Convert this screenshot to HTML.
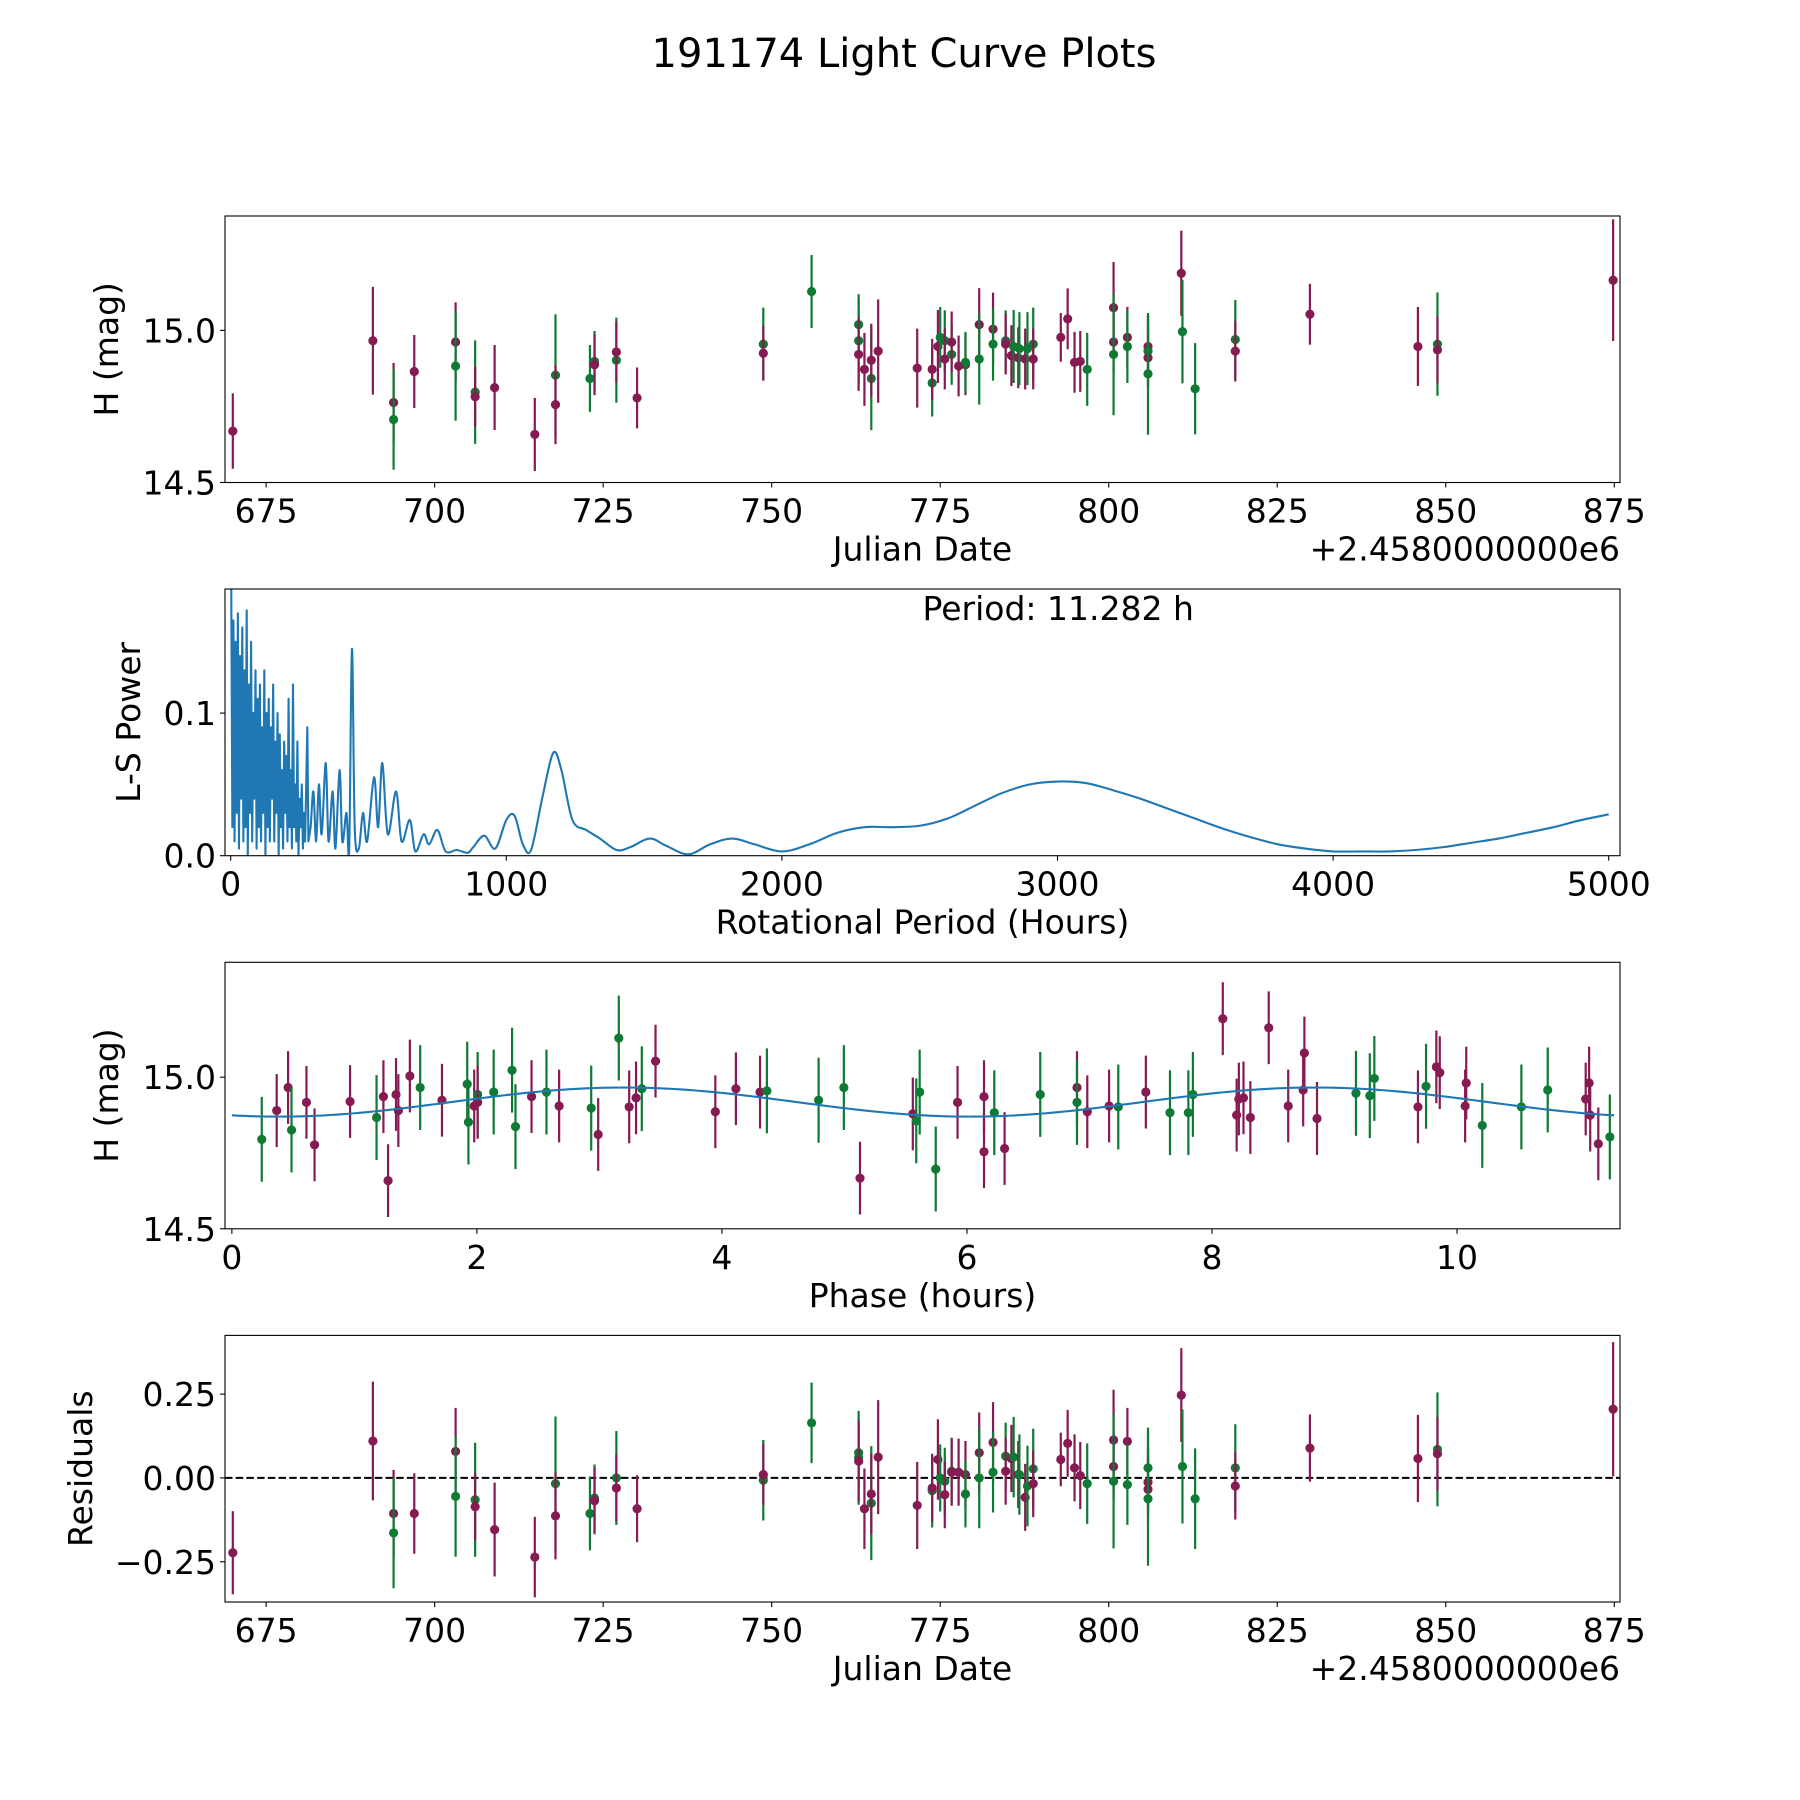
<!DOCTYPE html>
<html><head><meta charset="utf-8"><style>
html,body{margin:0;padding:0;background:#fff;}
svg{display:block;font-family:"DejaVu Sans","Liberation Sans",sans-serif;}
</style></head><body>
<svg id="fig" width="1800" height="1800" viewBox="0 0 1800 1800" xmlns="http://www.w3.org/2000/svg">
<rect width="1800" height="1800" fill="#fff"/>
<text x="904" y="67" font-size="40" text-anchor="middle">191174 Light Curve Plots</text>
</svg>
<script>
// ---- light curve data (JD offset, mag, err, residual, color) ----
const lcJd   = [670.06,690.84,693.91,693.91,696.98,703.11,703.11,706.01,706.01,708.90,714.86,717.93,717.93,723.04,723.72,723.72,726.96,726.96,730.03,748.76,748.76,755.92,762.90,762.90,762.90,763.76,764.78,764.78,765.80,771.59,773.81,773.81,774.66,775.00,775.68,775.68,776.70,776.70,777.73,778.75,778.75,780.79,780.79,782.84,782.84,784.71,784.71,785.56,785.90,786.58,786.75,787.61,787.95,788.80,788.80,792.89,793.91,794.93,795.78,796.81,800.72,800.72,800.72,802.77,802.77,805.83,805.83,805.83,805.83,810.77,810.94,812.82,818.78,818.78,829.85,845.87,848.77,848.77,874.83];
const lcMag  = [14.669,14.966,14.763,14.707,14.865,14.962,14.883,14.797,14.782,14.812,14.658,14.853,14.756,14.842,14.898,14.887,14.902,14.929,14.778,14.955,14.925,15.128,15.019,14.966,14.921,14.872,14.842,14.902,14.932,14.876,14.827,14.872,14.947,14.977,14.966,14.906,14.921,14.962,14.883,14.887,14.895,15.019,14.906,15.004,14.955,14.966,14.955,14.917,14.947,14.910,14.940,14.906,14.940,14.955,14.906,14.977,15.038,14.895,14.898,14.872,15.075,14.962,14.921,14.977,14.947,14.947,14.932,14.910,14.857,15.188,14.996,14.808,14.970,14.932,15.053,14.947,14.955,14.936,15.165];
const lcErr  = [0.124,0.177,0.13,0.165,0.12,0.13,0.18,0.17,0.1,0.14,0.12,0.2,0.13,0.11,0.1,0.1,0.14,0.1,0.1,0.12,0.09,0.12,0.1,0.14,0.12,0.12,0.17,0.12,0.17,0.13,0.11,0.1,0.12,0.1,0.1,0.1,0.1,0.1,0.1,0.1,0.1,0.12,0.15,0.12,0.12,0.1,0.1,0.1,0.12,0.1,0.12,0.1,0.12,0.12,0.1,0.08,0.1,0.1,0.1,0.12,0.15,0.1,0.2,0.1,0.12,0.1,0.12,0.1,0.2,0.14,0.17,0.15,0.13,0.1,0.1,0.13,0.17,0.11,0.2];
const lcRes  = [-0.223,0.110,-0.106,-0.164,-0.106,0.079,-0.055,-0.065,-0.086,-0.154,-0.236,-0.017,-0.113,-0.106,-0.060,-0.068,0.0,-0.030,-0.092,-0.007,0.010,0.164,0.075,0.060,0.050,-0.092,-0.075,-0.048,0.062,-0.082,-0.038,-0.030,0.055,0.0,-0.010,-0.050,0.020,0.017,0.017,0.010,-0.048,0.075,0.0,0.106,0.017,0.065,0.020,0.058,0.062,0.010,0.010,-0.058,-0.024,0.027,-0.017,0.055,0.103,0.030,0.007,-0.017,0.113,0.034,-0.010,0.109,-0.020,-0.013,0.030,-0.034,-0.062,0.247,0.034,-0.062,0.030,-0.024,0.089,0.058,0.085,0.072,0.205];
const lcCol  = ['p','p','p','g','p','p','g','g','p','p','p','g','p','g','g','p','g','p','p','g','p','g','g','g','p','p','g','p','p','p','g','p','p','g','g','p','g','p','p','p','g','p','g','p','g','g','p','p','g','p','g','p','g','g','p','p','p','p','p','g','p','p','g','p','g','p','g','p','g','p','g','g','g','p','p','p','g','p','p'];
// ---- phased data ----
const phHr  = [0.244,0.366,0.459,0.487,0.609,0.675,0.965,1.181,1.237,1.275,1.340,1.359,1.453,1.537,1.715,1.921,1.931,1.978,2.006,2.006,2.137,2.287,2.315,2.446,2.568,2.671,2.933,2.990,3.158,3.243,3.299,3.346,3.458,3.946,4.114,4.311,4.367,4.789,4.995,5.127,5.558,5.586,5.614,5.745,5.923,6.139,6.139,6.223,6.307,6.598,6.898,6.898,6.982,7.160,7.235,7.460,7.657,7.807,7.844,8.088,8.201,8.219,8.257,8.313,8.463,8.622,8.744,8.754,8.857,9.175,9.288,9.325,9.681,9.747,9.831,9.859,10.066,10.075,10.206,10.525,10.740,11.050,11.078,11.087,11.153,11.247];
const phMag = [14.795,14.890,14.966,14.826,14.917,14.777,14.920,14.867,14.936,14.659,14.943,14.890,15.004,14.966,14.924,14.977,14.852,14.905,14.943,14.917,14.951,15.023,14.837,14.936,14.951,14.905,14.898,14.811,15.129,14.902,14.932,14.962,15.053,14.886,14.962,14.951,14.955,14.924,14.966,14.667,14.879,14.856,14.951,14.697,14.917,14.936,14.754,14.883,14.765,14.943,14.966,14.917,14.886,14.905,14.902,14.951,14.883,14.883,14.943,15.193,14.875,14.928,14.932,14.867,15.163,14.905,14.958,15.080,14.864,14.947,14.939,14.996,14.902,14.970,15.034,15.015,14.905,14.981,14.841,14.902,14.958,14.928,14.981,14.875,14.780,14.803];
const phCol = ['g','p','p','g','p','p','p','g','p','p','p','p','p','g','p','g','g','p','g','p','g','g','g','p','g','p','g','p','g','p','p','g','p','p','p','p','g','g','g','p','p','g','g','g','p','p','p','g','p','g','p','g','p','p','g','p','g','g','g','p','p','p','p','p','p','p','p','p','p','g','g','g','p','g','p','p','p','p','g','g','g','p','p','p','p','g'];
// fitted model parameters
const fitMean = 14.918, fitAmp = 0.048, fitPeak = 3.2, fitHalfPeriod = 5.641, rotPeriod = 11.282;
// ---- periodogram ----
const lsPeriod = [2,6,10,14,18,22,26,30,34,38,42,46,50,54,58,62,66,70,74,78,82,86,90,94,98,102,106,110,114,118,122,126,130,134,138,142,146,150,154,158,162,166,170,174,178,182,186,190,194,198,202,206,210,214,218,222,226,230,234,238,242,246,250,254,258,262,266,270,278,282,290,300,310,320,330,345,355,370,380,395,405,420,430,440,450,465,480,495,520,535,550,570,600,620,650,670,700,720,750,780,820,860,880,920,960,1000,1030,1060,1090,1130,1170,1200,1240,1290,1340,1400,1450,1520,1580,1660,1740,1820,1900,2000,2100,2200,2300,2400,2500,2600,2700,2800,2900,3000,3100,3200,3300,3400,3500,3600,3700,3800,3900,4000,4100,4200,4300,4400,4500,4600,4700,4800,4900,5000];
const lsPower = [0.187,0.02,0.165,0.01,0.15,0.03,0.17,0.005,0.14,0.04,0.16,0.01,0.13,0.02,0.172,0.0,0.12,0.03,0.15,0.01,0.1,0.04,0.13,0.005,0.11,0.02,0.12,0.01,0.09,0.03,0.13,0.0,0.1,0.02,0.11,0.01,0.09,0.04,0.12,0.01,0.08,0.03,0.1,0.0,0.085,0.02,0.06,0.005,0.08,0.03,0.07,0.01,0.11,0.02,0.06,0.005,0.12,0.02,0.05,0.01,0.08,0.0,0.04,0.02,0.05,0.005,0.03,0.01,0.09,0.01,0.02,0.045,0.01,0.05,0.015,0.065,0.01,0.045,0.005,0.06,0.01,0.03,0.005,0.145,0.02,0.005,0.03,0.01,0.055,0.02,0.065,0.015,0.045,0.01,0.025,0.003,0.015,0.008,0.018,0.003,0.004,0.002,0.006,0.014,0.005,0.025,0.028,0.008,0.004,0.04,0.072,0.06,0.025,0.018,0.012,0.004,0.006,0.012,0.007,0.001,0.008,0.012,0.008,0.003,0.008,0.016,0.02,0.02,0.021,0.026,0.035,0.044,0.05,0.052,0.051,0.046,0.04,0.033,0.026,0.019,0.013,0.008,0.005,0.003,0.003,0.003,0.004,0.006,0.009,0.012,0.016,0.02,0.025,0.029];
const bestPeriodLabel = 'Period: 11.282 h';
// ---- ticks ----
const jdTicks = [675,700,725,750,775,800,825,850,875];
const magTicks = [14.5,15.0];
const lsXTicks = [0,1000,2000,3000,4000,5000];
const lsYTicks = [0.0,0.1];
const phTicks = [0,2,4,6,8,10];
const resTicks = [-0.25,0,0.25];

const NS='http://www.w3.org/2000/svg';
const svg=document.getElementById('fig');
const PCOL={p:'#861a52',g:'#0f7a33'};
const FS=33;
function mk(tag,attrs,parent){const e=document.createElementNS(NS,tag);for(const k in attrs)e.setAttribute(k,attrs[k]);(parent||svg).appendChild(e);return e;}
const L=225,R=1620;
const panels=[[216,482.5],[589,855.7],[962.3,1228.8],[1335.4,1602]];
function lin(d0,d1,r0,r1){return v=>r0+(v-d0)*(r1-r0)/(d1-d0);}

function axes(idx,name,xd,yd,xt,yt,xfmt,yfmt,xlabel,ylabel,ylabelX){
  const [T,B]=panels[idx];
  const g=mk('g',{});
  
  
  const sx=lin(xd[0],xd[1],L,R), sy=lin(yd[0],yd[1],B,T);
  const clipId='clip'+idx;
  const cp=mk('clipPath',{id:clipId},g);mk('rect',{x:L,y:T,width:R-L,height:B-T},cp);
  const plot=mk('g',{'clip-path':'url(#'+clipId+')'},g);
  
  
  xt.forEach(v=>{const x=sx(v);
    const t=mk('line',{x1:x,x2:x,y1:B,y2:B+5,stroke:'#000','stroke-width':1.1},g);
    
    
    const tx=mk('text',{x:x,y:B+40,'font-size':FS,'text-anchor':'middle'},g);tx.textContent=xfmt(v);
    
    });
  yt.forEach(v=>{const y=sy(v);
    const t=mk('line',{x1:L-5,x2:L,y1:y,y2:y,stroke:'#000','stroke-width':1.1},g);
    
    
    const tx=mk('text',{x:L-9,y:y+12,'font-size':FS,'text-anchor':'end'},g);tx.textContent=yfmt(v);
    
    });
  const xl=mk('text',{x:(L+R)/2,y:B+78,'font-size':FS,'text-anchor':'middle'},g);xl.textContent=xlabel;
  
  
  const ym=(T+B)/2;
  const yl=mk('text',{x:ylabelX,y:ym,'font-size':FS,'text-anchor':'middle',transform:`rotate(-90 ${ylabelX} ${ym})`},g);yl.textContent=ylabel;
  
  
  return {g,plot,sx,sy,T,B};
}
function frame(a){const f=mk('rect',{x:L,y:a.T,width:R-L,height:a.B-a.T,fill:'none',stroke:'#000','stroke-width':1.1},a.g);
  
  }
function offsetText(a){const t=mk('text',{x:R,y:a.B+78,'font-size':FS,'text-anchor':'end'},a.g);t.textContent='+2.4580000000e6';
  
  }
function errpt(a,x,y,e,c,name){
  const X=a.sx(x),Y=a.sy(y);
  const l=mk('line',{x1:X,x2:X,y1:a.sy(y-e),y2:a.sy(y+e),stroke:PCOL[c],'stroke-width':2.2},a.plot);
  
  
  const d=mk('circle',{cx:X,cy:Y,r:4.6,fill:PCOL[c]},a.plot);
  
  
}
const f1=v=>v.toFixed(1), f0=v=>String(v), f2=v=>(v<0?'\u2212':'')+Math.abs(v).toFixed(2);

// Panel 1: light curve
const a1=axes(0,'light-curve',[668.9,875.85],[14.5,15.376],jdTicks,magTicks,f0,f1,'Julian Date','H (mag)',118);
lcJd.forEach((x,i)=>errpt(a1,x,lcMag[i],lcErr[i],lcCol[i],'observation'));
frame(a1);offsetText(a1);

// Panel 2: periodogram (polyline in dense region, smooth spline beyond)
const a2=axes(1,'periodogram',[-20.7,5041],[0,0.187],lsXTicks,lsYTicks,f0,f1,'Rotational Period (Hours)','L-S Power',140);
const P=lsPeriod.map((p,i)=>[a2.sx(p),a2.sy(lsPower[i])]);
let ld='M'+P[0][0].toFixed(2)+' '+P[0][1].toFixed(2);
for(let i=1;i<P.length;i++){
  if(lsPeriod[i]<=290){ld+='L'+P[i][0].toFixed(2)+' '+P[i][1].toFixed(2);continue;}
  const p0=P[Math.max(0,i-2)],p1=P[i-1],p2=P[i],p3=P[Math.min(P.length-1,i+1)];
  const c1=[p1[0]+(p2[0]-p0[0])/6,p1[1]+(p2[1]-p0[1])/6],c2=[p2[0]-(p3[0]-p1[0])/6,p2[1]-(p3[1]-p1[1])/6];
  ld+='C'+c1[0].toFixed(2)+' '+c1[1].toFixed(2)+' '+c2[0].toFixed(2)+' '+c2[1].toFixed(2)+' '+p2[0].toFixed(2)+' '+p2[1].toFixed(2);
}
const pl=mk('path',{d:ld,fill:'none',stroke:'#1f77b4','stroke-width':2.1,'stroke-linejoin':'round'},a2.plot);


frame(a2);
const pt=mk('text',{x:(L+R)/2,y:a2.T+31,'font-size':FS,'text-anchor':'start'},a2.g);pt.textContent=bestPeriodLabel;



// Panel 3: phased
const a3=axes(2,'phased-curve',[-0.056,11.33],[14.5,15.379],phTicks,magTicks,f0,f1,'Phase (hours)','H (mag)',118);
phHr.forEach((x,i)=>errpt(a3,x,phMag[i],phCol[i]==='p'?0.12:0.14,phCol[i],'phased'));
let md='';
for(let k=0;k<=300;k++){const p=rotPeriod*k/300;const m=fitMean+fitAmp*Math.cos(2*Math.PI*(p-fitPeak)/fitHalfPeriod);
  md+=(k?'L':'M')+a3.sx(p).toFixed(2)+' '+a3.sy(m).toFixed(2);}
const mp=mk('path',{d:md,fill:'none',stroke:'#1f77b4','stroke-width':2.1},a3.plot);


frame(a3);

// Panel 4: residuals
const a4=axes(3,'residuals',[668.9,875.85],[-0.37,0.425],jdTicks,resTicks,f0,f2,'Julian Date','Residuals',92);
const zl=mk('line',{x1:L,x2:R,y1:a4.sy(0),y2:a4.sy(0),stroke:'#000','stroke-width':2,'stroke-dasharray':'7.5,3.2'},a4.plot);


lcJd.forEach((x,i)=>errpt(a4,x,lcRes[i],lcErr[i],lcCol[i],'residual'));
frame(a4);offsetText(a4);
</script>
</body></html>
